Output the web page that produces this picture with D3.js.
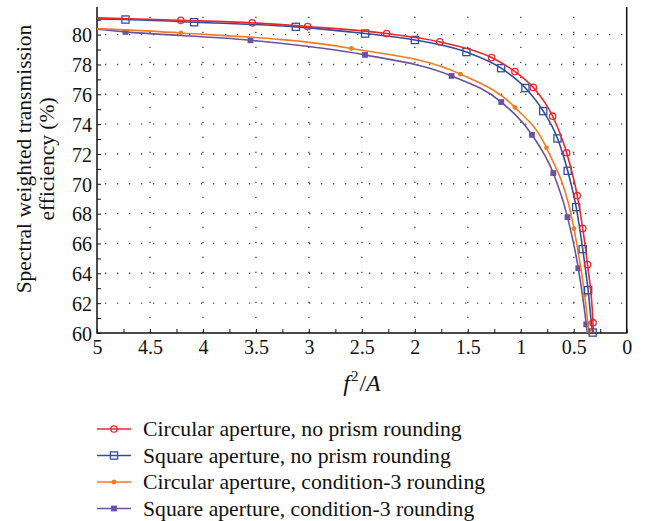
<!DOCTYPE html>
<html>
<head>
<meta charset="utf-8">
<script src="https://cdn.jsdelivr.net/npm/d3@7"></script>
<style>
  html, body { margin: 0; padding: 0; background: #fff; }
  svg { display: block; }
  text { font-family: "Liberation Serif", "DejaVu Serif", serif; fill: #111; }
</style>
</head>
<body>
<svg id="chart" width="645" height="521"></svg>
<script>
// f^2/A values and efficiencies (%) for each configuration.
// First and last entries are where each curve meets the frame; markers sit on the rest.
const circNoneX = [5, 4.209, 3.535, 3.012, 2.266, 1.763, 1.275, 1.055, 0.882, 0.699, 0.567, 0.467, 0.415, 0.370, 0.318, 0.314];
const circNoneY = [81.12, 80.96, 80.79, 80.54, 80.07, 79.51, 78.46, 77.52, 76.46, 74.53, 72.08, 69.21, 67.01, 64.58, 60.69, 60.0];

const sqNoneX = [5, 4.731, 4.083, 3.123, 2.469, 1.999, 1.513, 1.185, 0.956, 0.788, 0.653, 0.557, 0.477, 0.415, 0.364, 0.321, 0.320];
const sqNoneY = [81.05, 81.01, 80.83, 80.52, 80.07, 79.64, 78.83, 77.75, 76.42, 74.87, 73.04, 70.87, 68.44, 65.62, 62.87, 60.03, 60.0];

const circC3X = [5, 4.209, 2.599, 1.569, 1.055, 0.757, 0.498, 0.397, 0.356, 0.352];
const circC3Y = [80.40, 80.11, 79.07, 77.35, 75.12, 72.41, 67.00, 62.55, 60.13, 60.0];

const sqC3X = [5, 4.731, 3.551, 2.470, 1.653, 1.184, 0.894, 0.693, 0.559, 0.457, 0.382, 0.373];
const sqC3Y = [80.36, 80.18, 79.62, 78.64, 77.23, 75.48, 73.28, 70.72, 67.77, 64.34, 60.58, 60.0];

const seriesNames = [
  "Circular aperture, no prism rounding",
  "Square aperture, no prism rounding",
  "Circular aperture, condition-3 rounding",
  "Square aperture, condition-3 rounding"
];
const seriesColors = ["#ec2629", "#2f4f9e", "#f47b20", "#6b52a1"];
const seriesMarkers = ["openCircle", "openSquare", "dot", "filledSquare"];

const xTickLabels = [5, 4.5, 4, 3.5, 3, 2.5, 2, 1.5, 1, 0.5, 0];
const yTickLabels = [60, 62, 64, 66, 68, 70, 72, 74, 76, 78, 80];

const series = [
  { xs: circNoneX, ys: circNoneY },
  { xs: sqNoneX, ys: sqNoneY },
  { xs: circC3X, ys: circC3Y },
  { xs: sqC3X, ys: sqC3Y }
].map((s, i) => ({
  name: seriesNames[i],
  color: seriesColors[i],
  marker: seriesMarkers[i],
  pts: s.xs.map((x, j) => ({ x, y: s.ys[j] }))
}));

const svg = d3.select("#chart");
svg.append("rect").attr("width", 645).attr("height", 521).attr("fill", "#fff");

const plotLeft = 97, plotRight = 626.7, plotTop = 7, plotBottom = 333;
const x = d3.scaleLinear().domain([5, 0]).range([plotLeft, plotRight]);
const y = d3.scaleLinear().domain([60, 81.85]).range([plotBottom, plotTop]);

// dotted grid
const grid = svg.append("g").attr("stroke", "#4a4a4a").attr("stroke-width", 1.4).attr("fill", "none");
xTickLabels.filter(v => v !== 5 && v !== 0).forEach(v => {
  grid.append("line")
    .attr("x1", x(v)).attr("x2", x(v)).attr("y1", plotBottom).attr("y2", plotTop)
    .attr("stroke-dasharray", "1.3,13.7");
});
yTickLabels.filter(v => v !== 60).forEach(v => {
  grid.append("line")
    .attr("x1", plotLeft).attr("x2", plotRight).attr("y1", y(v)).attr("y2", y(v))
    .attr("stroke-dasharray", "1.3,10.7").attr("stroke-dashoffset", -8);
});

// axes with inward minor ticks
const xAxis = d3.axisBottom(x)
  .tickValues(d3.range(0, 5.001, 0.25))
  .tickSize(-4)
  .tickFormat(v => xTickLabels.some(t => Math.abs(t - v) < 1e-6) ? d3.format("~g")(v) : "");
const gx = svg.append("g").attr("transform", `translate(0,${plotBottom})`).call(xAxis);
gx.select(".domain").remove();
gx.selectAll(".tick line").attr("stroke", "#111").attr("stroke-width", 1);
gx.selectAll(".tick text").attr("font-size", 20).attr("dy", "0.95em").attr("y", 2)
  .style("font-family", '"Liberation Serif", serif').attr("fill", "#111");

const yAxis = d3.axisLeft(y)
  .tickValues(d3.range(60, 81.001, 1))
  .tickSize(-4)
  .tickFormat(v => yTickLabels.includes(v) ? String(v) : "");
const gy = svg.append("g").attr("transform", `translate(${plotLeft},0)`).call(yAxis);
gy.select(".domain").remove();
gy.selectAll(".tick line").attr("stroke", "#111").attr("stroke-width", 1);
gy.selectAll(".tick text").attr("font-size", 20).attr("x", -5).attr("dy", "0.36em")
  .style("font-family", '"Liberation Serif", serif').attr("fill", "#111");

// frame: left, bottom, right
svg.append("path")
  .attr("d", `M${plotLeft},${plotTop}V${plotBottom}H${plotRight}V${plotTop}`)
  .attr("fill", "none").attr("stroke", "#111").attr("stroke-width", 1.5);

// curves
svg.append("clipPath").attr("id", "plotClip")
  .append("rect").attr("x", plotLeft).attr("y", plotTop)
  .attr("width", plotRight - plotLeft).attr("height", plotBottom - plotTop);

const line = d3.line().x(d => x(d.x)).y(d => y(d.y)).curve(d3.curveMonotoneX);

function drawMarker(g, type, color, cx, cy) {
  if (type === "openCircle") {
    g.append("circle").attr("cx", cx).attr("cy", cy).attr("r", 3.2)
      .attr("fill", "none").attr("stroke", color).attr("stroke-width", 1.3);
  } else if (type === "openSquare") {
    g.append("rect").attr("x", cx - 3.6).attr("y", cy - 3.6).attr("width", 7.2).attr("height", 7.2)
      .attr("fill", "none").attr("stroke", color).attr("stroke-width", 1.3);
  } else if (type === "dot") {
    g.append("circle").attr("cx", cx).attr("cy", cy).attr("r", 2.4).attr("fill", color);
  } else {
    g.append("rect").attr("x", cx - 2.9).attr("y", cy - 2.9).attr("width", 5.8).attr("height", 5.8)
      .attr("fill", color);
  }
}

// draw back to front so the red curve sits on top
series.slice().reverse().forEach(s => {
  svg.append("path")
    .datum(s.pts)
    .attr("clip-path", "url(#plotClip)")
    .attr("d", line)
    .attr("fill", "none")
    .attr("stroke", s.color)
    .attr("stroke-width", 1.6);
  const mg = svg.append("g");
  s.pts.slice(1, -1).forEach(p => drawMarker(mg, s.marker, s.color, x(p.x), y(p.y)));
});

// axis titles
const xt = svg.append("text").attr("x", 362).attr("y", 391).attr("text-anchor", "middle")
  .attr("font-size", 24);
xt.append("tspan").attr("font-style", "italic").text("f");
xt.append("tspan").attr("font-size", 15).attr("dy", -10).attr("dx", 1).text("2");
xt.append("tspan").attr("dy", 10).attr("dx", 1).text("/");
xt.append("tspan").attr("font-style", "italic").text("A");

const yt = svg.append("text").attr("transform", "translate(31,159) rotate(-90)")
  .attr("text-anchor", "middle").attr("font-size", 21.5);
yt.append("tspan").attr("x", 0).attr("dy", 0).text("Spectral weighted transmission");
yt.append("tspan").attr("x", 0).attr("dy", 23).text("efficiency (%)");

// legend
const legend = svg.append("g");
series.forEach((s, i) => {
  const cy = 429 + i * 26.5;
  legend.append("line").attr("x1", 97).attr("x2", 131).attr("y1", cy).attr("y2", cy)
    .attr("stroke", s.color).attr("stroke-width", 1.6);
  drawMarker(legend, s.marker, s.color, 114, cy);
  legend.append("text").attr("x", 143).attr("y", cy).attr("dy", "0.33em")
    .attr("font-size", 21.7).text(s.name);
});
</script>
</body>
</html>
